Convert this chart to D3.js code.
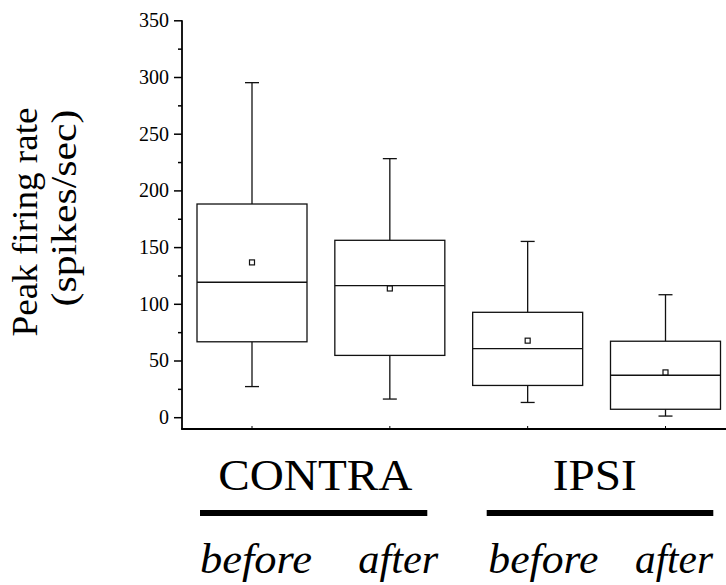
<!DOCTYPE html>
<html>
<head>
<meta charset="utf-8">
<script src="https://cdn.jsdelivr.net/npm/d3@7"></script>
<style>
  body { margin: 0; background: #fff; }
  svg { display: block; font-family: "Liberation Serif", "Times New Roman", serif; }
</style>
</head>
<body>
<svg id="chart"></svg>
<script>
// values
const sides = ['CONTRA', 'IPSI'];
const conditions = ['before', 'after', 'before', 'after'];
const whiskerHigh = [295, 228, 155, 108];
const q3 = [188, 156, 92.5, 67];
const median = [119, 116, 60.5, 37];
const mean = [136.5, 113.5, 67.5, 39.5];
const q1 = [66.5, 54.5, 28, 7];
const whiskerLow = [27, 16, 13, 1];
const yTicks = [0, 50, 100, 150, 200, 250, 300, 350];
const yMinorTicks = [25, 75, 125, 175, 225, 275, 325];

const width = 726;
const height = 585;
const axisX = 182;
const axisY = 429;
const boxWidth = 110;
const capWidth = 14;

const boxes = conditions.map((c, i) => ({
  i: i,
  hi: whiskerHigh[i], q3: q3[i], med: median[i], mean: mean[i], q1: q1[i], lo: whiskerLow[i]
}));

const svg = d3.select('#chart').attr('width', width).attr('height', height);

const x = d3.scalePoint()
  .domain(d3.range(conditions.length))
  .range([252, 665.5]);

const y = d3.scaleLinear()
  .domain([0, 350])
  .range([417.2, 20.3]);

// y axis
const yAxis = d3.axisLeft(y).tickValues(yTicks).tickSize(8).tickPadding(5);
const gy = svg.append('g')
  .attr('transform', `translate(${axisX},0)`)
  .call(yAxis)
  .attr('font-family', null)
  .attr('font-size', null);
gy.select('.domain').remove();
gy.selectAll('.tick line').attr('stroke', '#000').attr('stroke-width', 1.5);
gy.selectAll('.tick text')
  .attr('font-size', 20)
  .attr('fill', '#000');

const gyMinor = svg.append('g')
  .attr('transform', `translate(${axisX},0)`)
  .call(d3.axisLeft(y).tickValues(yMinorTicks).tickSize(4).tickFormat(''));
gyMinor.select('.domain').remove();
gyMinor.selectAll('.tick line').attr('stroke', '#000').attr('stroke-width', 1.5);

svg.append('line')
  .attr('x1', axisX).attr('x2', axisX)
  .attr('y1', y(350)).attr('y2', axisY)
  .attr('stroke', '#000').attr('stroke-width', 1.8);

// x axis
svg.append('line')
  .attr('x1', axisX - 0.9).attr('x2', width)
  .attr('y1', axisY).attr('y2', axisY)
  .attr('stroke', '#000').attr('stroke-width', 1.8);

svg.selectAll('.xtick')
  .data(boxes)
  .enter()
  .append('line')
  .attr('class', 'xtick')
  .attr('x1', d => x(d.i)).attr('x2', d => x(d.i))
  .attr('y1', axisY).attr('y2', axisY - 3)
  .attr('stroke', '#000').attr('stroke-width', 1);

// boxes
const box = svg.selectAll('.box')
  .data(boxes)
  .enter()
  .append('g')
  .attr('class', 'box')
  .attr('stroke', '#111')
  .attr('stroke-width', 1.3)
  .attr('fill', 'none');

box.append('line')
  .attr('x1', d => x(d.i)).attr('x2', d => x(d.i))
  .attr('y1', d => y(d.hi)).attr('y2', d => y(d.q3));

box.append('line')
  .attr('x1', d => x(d.i)).attr('x2', d => x(d.i))
  .attr('y1', d => y(d.q1)).attr('y2', d => y(d.lo));

box.append('line')
  .attr('x1', d => x(d.i) - capWidth / 2).attr('x2', d => x(d.i) + capWidth / 2)
  .attr('y1', d => y(d.hi)).attr('y2', d => y(d.hi));

box.append('line')
  .attr('x1', d => x(d.i) - capWidth / 2).attr('x2', d => x(d.i) + capWidth / 2)
  .attr('y1', d => y(d.lo)).attr('y2', d => y(d.lo));

box.append('rect')
  .attr('x', d => x(d.i) - boxWidth / 2)
  .attr('width', boxWidth)
  .attr('y', d => y(d.q3))
  .attr('height', d => y(d.q1) - y(d.q3))
  .attr('fill', '#fff');

box.append('line')
  .attr('x1', d => x(d.i) - boxWidth / 2).attr('x2', d => x(d.i) + boxWidth / 2)
  .attr('y1', d => y(d.med)).attr('y2', d => y(d.med));

box.append('rect')
  .attr('x', d => x(d.i) - 2.5)
  .attr('y', d => y(d.mean) - 2.5)
  .attr('width', 5).attr('height', 5)
  .attr('fill', '#fff')
  .attr('stroke-width', 1.2);

// y label
const ylab = svg.append('g').attr('font-size', 35).attr('fill', '#000');
ylab.append('text')
  .attr('transform', 'translate(37,222) rotate(-90)')
  .attr('text-anchor', 'middle')
  .attr('textLength', 229)
  .attr('lengthAdjust', 'spacingAndGlyphs')
  .text('Peak firing rate');
ylab.append('text')
  .attr('transform', 'translate(76,208) rotate(-90)')
  .attr('text-anchor', 'middle')
  .attr('textLength', 197)
  .attr('lengthAdjust', 'spacingAndGlyphs')
  .text('(spikes/sec)');

// group labels under the axis
const sideLabel = [
  { text: sides[0], x: 218.3, len: 194, lineFrom: 200, lineTo: 427.3 },
  { text: sides[1], x: 552.7, len: 84, lineFrom: 486.7, lineTo: 713.3 }
];

svg.selectAll('.side')
  .data(sideLabel)
  .enter()
  .append('text')
  .attr('class', 'side')
  .attr('x', d => d.x)
  .attr('y', 490)
  .attr('font-size', 45)
  .attr('textLength', d => d.len)
  .attr('lengthAdjust', 'spacingAndGlyphs')
  .text(d => d.text);

svg.selectAll('.bar')
  .data(sideLabel)
  .enter()
  .append('line')
  .attr('class', 'bar')
  .attr('x1', d => d.lineFrom).attr('x2', d => d.lineTo)
  .attr('y1', 513).attr('y2', 513)
  .attr('stroke', '#000')
  .attr('stroke-width', 6);

const condPos = [
  { x: 200, len: 112 },
  { x: 358.3, len: 80 },
  { x: 488.3, len: 110 },
  { x: 635, len: 78 }
];

svg.selectAll('.cond')
  .data(conditions)
  .enter()
  .append('text')
  .attr('class', 'cond')
  .attr('x', (d, i) => condPos[i].x)
  .attr('y', 573)
  .attr('font-size', 43)
  .attr('font-style', 'italic')
  .attr('textLength', (d, i) => condPos[i].len)
  .attr('lengthAdjust', 'spacingAndGlyphs')
  .text(d => d);
</script>
</body>
</html>
